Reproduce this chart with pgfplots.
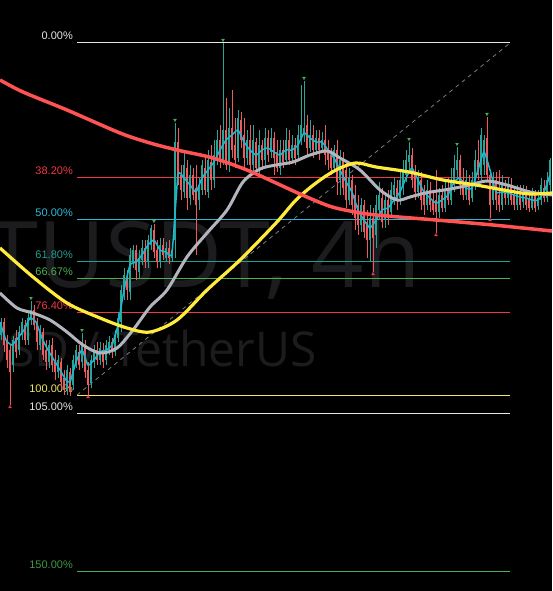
\documentclass[border=0pt]{standalone}
\usepackage{pgfplots}
\pgfplotsset{compat=1.18}
\usepackage{pgfplotstable}
\usepackage{fontspec}
\setmainfont{Liberation Sans}
\newfontfamily\wm{Open Sans}
\definecolor{upc}{HTML}{26A69A}
\definecolor{dnc}{HTML}{F05A5F}
\definecolor{cyl}{HTML}{1CB8D0}
\definecolor{gma}{HTML}{B2B5BE}
\definecolor{yma}{HTML}{FFEB3B}
\definecolor{rma}{HTML}{FF5252}
\definecolor{fred}{HTML}{F23645}
\definecolor{fcy}{HTML}{2AB8D6}
\definecolor{fteal}{HTML}{20A092}
\definecolor{fgrn}{HTML}{4CAF50}
\definecolor{fyel}{HTML}{F2E56E}
\definecolor{fwh}{HTML}{E6E6E6}
\definecolor{wmc}{HTML}{1C1C1E}
\definecolor{dgray}{HTML}{787B86}

% candles: x open high low close (pixel y, downward)
\pgfplotstableread{
x o h l c
1 335 318 340 322
4 322 318 352 345
7 340 335 368 360
10 350 345 405 372
13 365 336 372 340
16 338 330 358 352
19 350 326 355 332
22 335 318 340 322
25 325 320 345 340
28 340 312 345 318
31 320 301 325 310
34 310 305 330 325
37 322 318 350 342
40 345 325 350 330
43 332 328 360 355
46 350 340 370 362
49 362 340 368 345
52 345 338 372 365
55 360 350 380 372
58 372 355 378 360
61 362 358 388 382
64 378 370 395 390
67 390 365 395 370
70 372 368 396 392
73 385 355 390 360
76 362 345 368 350
79 352 345 370 365
82 362 333 368 342
85 345 340 378 372
88 370 362 395 385
91 383 355 388 360
94 362 345 368 350
97 350 342 365 360
100 360 342 365 348
103 350 343 368 362
106 360 340 365 345
109 350 336 355 342
112 342 338 358 352
115 352 330 356 335
118 338 312 342 318
121 322 285 332 290
124 295 268 300 275
127 278 270 300 290
130 292 248 300 255
133 262 245 268 250
136 250 245 280 270
139 272 250 278 258
142 260 240 265 248
145 248 240 268 262
148 262 235 268 240
151 245 225 250 228
154 230 224 258 252
157 250 240 268 262
160 262 238 268 245
163 245 238 260 255
166 258 242 262 248
169 248 240 264 258
172 258 245 262 250
175 240 123 258 142
178 142 128 185 178
181 175 165 200 190
184 192 150 198 165
187 168 160 210 198
190 198 165 205 175
193 175 168 200 195
196 188 165 255 205
199 200 178 210 185
202 190 160 195 165
205 168 155 195 190
208 192 150 198 160
211 162 145 190 180
214 180 140 188 155
217 158 130 165 140
220 140 125 168 160
223 160 43 165 130
226 130 98 170 165
229 165 108 172 128
232 128 90 158 150
235 145 118 168 160
238 158 110 162 118
241 120 112 148 140
244 135 118 168 158
247 158 130 165 140
250 140 125 172 165
253 165 125 175 140
256 142 138 172 168
259 168 130 175 145
262 145 140 170 160
265 160 128 168 138
268 138 130 162 155
271 152 128 158 138
274 138 132 175 158
277 152 140 172 168
280 168 140 175 150
283 150 140 168 162
286 160 128 165 140
289 140 130 165 160
292 158 135 162 145
295 145 138 165 158
298 155 125 160 135
301 140 85 145 125
304 135 81 142 128
307 125 115 155 148
310 148 120 152 135
313 135 125 158 150
316 150 130 155 138
319 138 130 160 150
322 148 132 152 140
325 140 125 165 155
328 150 140 170 160
331 155 148 175 168
334 168 145 172 150
337 150 140 195 182
340 180 150 195 160
343 160 152 195 188
346 170 160 208 200
349 200 168 205 178
352 180 175 215 205
355 195 185 230 218
358 205 195 235 225
361 225 198 232 205
364 205 200 238 232
367 222 210 258 240
370 240 205 262 218
373 218 208 272 238
376 235 195 248 205
379 210 182 220 195
382 198 188 228 222
385 220 192 228 200
388 200 190 225 215
391 212 182 218 190
394 195 178 205 185
397 188 180 210 200
400 198 172 205 180
403 185 160 195 170
406 175 150 182 160
409 162 142 170 155
412 155 148 188 180
415 175 165 200 192
418 192 170 198 178
421 180 172 210 200
424 195 185 215 205
427 205 180 210 190
430 190 182 212 205
433 200 190 215 210
436 200 170 233 212
439 212 188 218 195
442 195 185 212 208
445 208 180 212 190
448 190 178 205 200
451 200 168 205 182
454 185 155 192 168
457 170 147 178 160
460 160 155 195 185
463 180 168 200 195
466 195 170 200 180
469 182 175 205 200
472 198 172 202 180
475 182 150 190 160
478 160 140 180 175
481 175 128 180 135
484 165 135 175 140
487 138 117 180 175
490 175 170 218 205
493 200 172 205 180
496 180 172 210 200
499 195 170 212 205
502 205 175 210 185
505 188 180 205 198
508 198 178 205 185
511 185 178 205 200
514 195 188 210 205
517 205 185 210 192
520 192 185 210 205
523 202 185 208 192
526 192 186 210 205
529 198 190 212 208
532 208 188 210 195
535 195 190 212 208
538 206 190 210 198
541 200 178 205 185
544 188 180 202 198
547 198 172 202 180
550 185 158 195 160
}\candles

\begin{document}
\begin{tikzpicture}
\fill[black] (0,0) rectangle (552pt,591pt);
\begin{axis}[name=ax, at={(0,0)}, anchor=south west,
  width=552pt, height=591pt, scale only axis,
  xmin=0, xmax=552, ymin=0, ymax=591, y dir=reverse,
  axis lines=none, clip=true]

% watermark
\node[anchor=base east, text=wmc, inner sep=0pt] at (axis cs:421,287) {\wm\fontsize{92}{92}\selectfont TUSDT, 4h};
\node[anchor=base east, text=wmc, inner sep=0pt] at (axis cs:317,366) {\wm\fontsize{48}{48}\selectfont TrueUSD / TetherUS};

% fib levels
\addplot[fwh, line width=1pt] coordinates {(77,43) (510,43)};
\addplot[fred, line width=1pt] coordinates {(77,177) (510,177)};
\addplot[fcy, line width=1pt] coordinates {(77,219) (510,219)};
\addplot[fteal, line width=1pt] coordinates {(77,261) (510,261)};
\addplot[fgrn, line width=1pt] coordinates {(77,278) (510,278)};
\addplot[fred, line width=1pt] coordinates {(77,312) (510,312)};
\addplot[fyel, line width=1pt] coordinates {(77,395) (510,395)};
\addplot[fwh, line width=1pt] coordinates {(77,413) (510,413)};
\addplot[fgrn, line width=1pt] coordinates {(77,571) (510,571)};
\addplot[dgray, line width=0.8pt, dash pattern=on 4pt off 4pt] coordinates {(77,395) (510,43)};

\node[anchor=base east, text=fwh, inner sep=0pt] at (axis cs:73,40) {\fontsize{11}{11}\selectfont 0.00\%};
\node[anchor=base east, text=fred, inner sep=0pt] at (axis cs:73,174) {\fontsize{11}{11}\selectfont 38.20\%};
\node[anchor=base east, text=fcy, inner sep=0pt] at (axis cs:73,216) {\fontsize{11}{11}\selectfont 50.00\%};
\node[anchor=base east, text=fteal, inner sep=0pt] at (axis cs:73,258) {\fontsize{11}{11}\selectfont 61.80\%};
\node[anchor=base east, text=fgrn, inner sep=0pt] at (axis cs:73,275) {\fontsize{11}{11}\selectfont 66.67\%};
\node[anchor=base east, text=fred, inner sep=0pt] at (axis cs:73,309) {\fontsize{11}{11}\selectfont 76.40\%};
\node[anchor=base east, text=fyel, inner sep=0pt] at (axis cs:73,392) {\fontsize{11}{11}\selectfont 100.00\%};
\node[anchor=base east, text=fwh, inner sep=0pt] at (axis cs:73,410) {\fontsize{11}{11}\selectfont 105.00\%};
\node[anchor=base east, text=fgrn!85!black, inner sep=0pt] at (axis cs:73,568) {\fontsize{11}{11}\selectfont 150.00\%};

% wicks (quiver from high to low)
\addplot[upc, line width=1pt, -, restrict expr to domain={\thisrow{o}-\thisrow{c}}{0:1000},
  quiver={u=0, v=\thisrow{l}-\thisrow{h}}]
  table[x=x, y=h] {\candles};
\addplot[dnc, line width=1pt, -, restrict expr to domain={\thisrow{c}-\thisrow{o}}{0:1000},
  quiver={u=0, v=\thisrow{l}-\thisrow{h}}]
  table[x=x, y=h] {\candles};
% bodies (quiver from open to close)
\addplot[upc, line width=2.7pt, -, restrict expr to domain={\thisrow{o}-\thisrow{c}}{0:1000},
  quiver={u=0, v=\thisrow{c}-\thisrow{o}}]
  table[x=x, y=o] {\candles};
\addplot[dnc, line width=2.7pt, -, restrict expr to domain={\thisrow{c}-\thisrow{o}}{0:1000},
  quiver={u=0, v=\thisrow{c}-\thisrow{o}}]
  table[x=x, y=o] {\candles};

% high / low markers
\addplot[only marks, mark=triangle*, mark size=1.6pt, color=fgrn, mark options={rotate=180}]
  coordinates {(31,298) (82,330) (154,221) (175,120) (223,40) (304,78) (409,139) (457,144) (487,114)};
\addplot[only marks, mark=triangle*, mark size=1.6pt, color=fred]
  coordinates {(10,407) (88,397) (373,274) (436,235) (490,220)};

% fast line
\addplot[cyl, line width=1.5pt, smooth, tension=0.3] coordinates {
(0,322) (6,340) (12,345) (18,338) (24,330) (30,318) (36,322) (42,338) (48,350) (54,360)
(60,370) (66,380) (70,382) (76,362) (82,350) (88,365) (94,360) (100,352) (106,350) (112,345)
(118,325) (124,290) (130,265) (136,262) (142,255) (148,245) (154,240) (160,250) (166,252) (172,253)
(178,175) (184,178) (190,185) (196,192) (202,178) (208,170) (214,162) (220,150) (226,140) (232,135)
(238,130) (244,142) (250,150) (256,155) (262,150) (268,148) (274,152) (280,155) (286,150) (292,150)
(298,145) (304,133) (310,138) (316,142) (322,142) (328,150) (334,158) (340,170) (346,182) (352,192)
(358,210) (364,220) (370,228) (376,220) (382,210) (388,208) (394,200) (400,192) (406,178) (412,168)
(418,180) (424,192) (430,198) (436,203) (442,200) (448,195) (454,182) (460,178) (466,188) (472,188)
(478,170) (484,152) (490,170) (496,192) (502,192) (508,193) (514,195) (520,197) (526,198) (532,200)
(538,200) (544,192) (550,175)};

% moving averages
\addplot[gma, line width=3pt, smooth] coordinates {
(0,293) (17,308) (33,313) (50,320) (67,332) (83,345) (100,353) (117,348) (133,330) (150,307)
(167,290) (187,257) (207,233) (227,210) (243,182) (260,169) (276,165) (293,162) (310,155) (327,151)
(340,158) (360,170) (380,190) (397,200) (410,197) (425,193) (450,189) (470,185) (487,181) (507,185)
(530,192) (552,195)};
\addplot[yma, line width=3.2pt, smooth] coordinates {
(0,248) (33,277) (67,303) (100,318) (127,328) (150,332) (177,320) (207,290) (240,260) (276,223)
(296,200) (316,183) (336,170) (356,163) (376,167) (409,172) (443,180) (476,185) (509,191) (530,194) (552,193)};
\addplot[rma, line width=3.5pt, smooth] coordinates {
(0,80) (23,92) (67,110) (120,133) (150,143) (177,150) (213,158) (247,170) (276,183) (300,194)
(329,206) (350,211) (376,215) (436,220) (493,225) (552,231)};

\end{axis}
\pgfresetboundingbox
\path[use as bounding box] (0,0) rectangle (552pt,591pt);
\end{tikzpicture}
\end{document}
